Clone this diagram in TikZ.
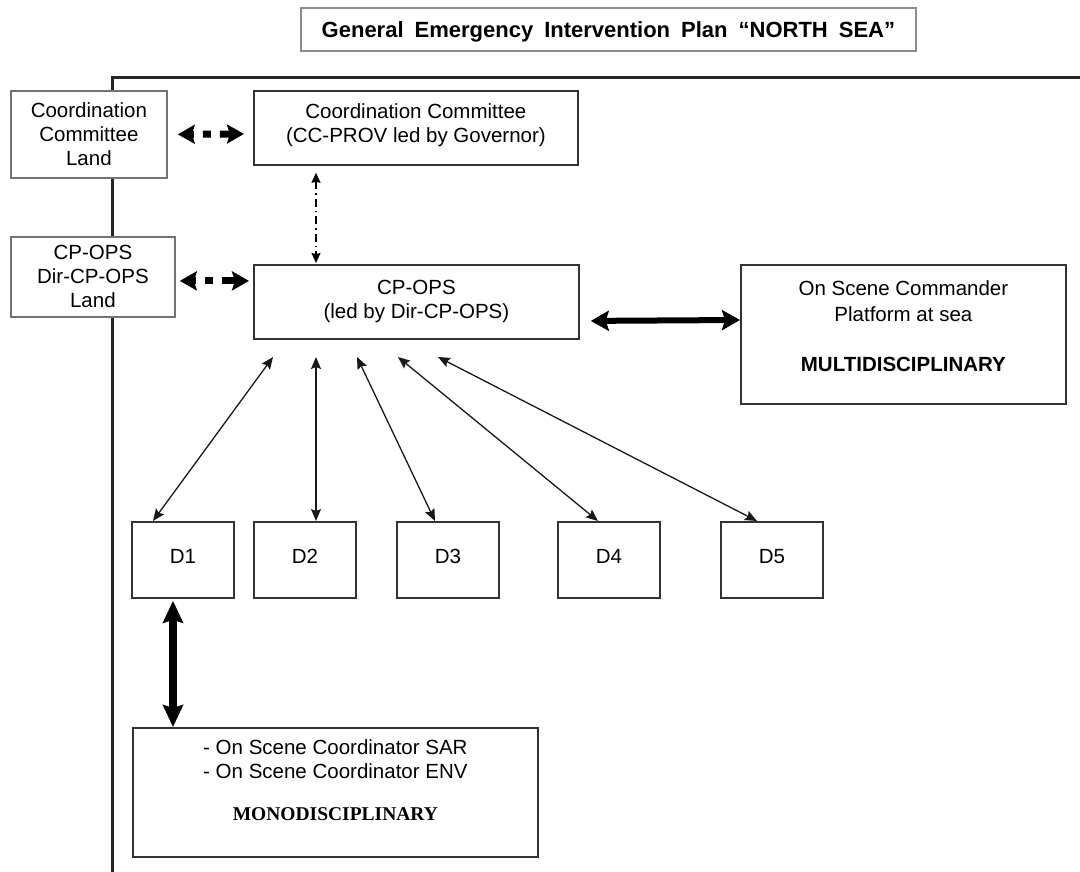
\documentclass[tikz,border=0pt]{standalone}
\usepackage{fontspec}
\setmainfont{Liberation Sans}
\newfontfamily\serifbold{Liberation Serif}
\usetikzlibrary{arrows.meta,calc}
\tikzset{
  box/.style={draw=black!80, line width=1.8pt, fill=white, anchor=north west, align=center,
    inner sep=0pt, font=\fontsize{20.5}{24}\selectfont},
  graybox/.style={box, draw=black!55},
  dbox/.style={box, minimum width=102, minimum height=76, text height=15pt, text depth=7pt},
  frame/.style={draw=black!85, line width=3pt},
  thickdash/.style={line width=7pt, dash pattern=on 3pt off 9pt on 8pt off 9pt on 30pt, black,
    {Stealth[length=17pt,width=19pt,inset=3pt]}-{Stealth[length=17pt,width=19pt,inset=3pt]}},
  dashdot/.style={line width=1.5pt, dash pattern=on 8pt off 4pt on 1.5pt off 4pt, black,
    {Stealth[length=10pt,width=9pt,inset=1pt]}-{Stealth[length=10pt,width=9pt,inset=1pt]}},
  boldarrow/.style={line width=6pt, black, {Stealth[length=18pt,width=20pt,inset=3pt]}-{Stealth[length=18pt,width=20pt,inset=3pt]}},
  hugearrow/.style={line width=7.5pt, black, {Stealth[length=22pt,width=20pt,inset=3pt]}-{Stealth[length=22pt,width=20pt,inset=3pt]}},
  thinarrow/.style={line width=1.3pt, black!90, {Stealth[length=12pt,width=10pt,inset=2pt]}-{Stealth[length=12pt,width=10pt,inset=2pt]}}
}
\begin{document}
\begin{tikzpicture}[x=1pt,y=-1pt]
\useasboundingbox (0,0) rectangle (1080,872);

% frame lines
\draw[frame] (112,872) -- (112,78) -- (1080,78);

% title
\node[box, draw=black!45, minimum width=615, minimum height=43, text height=16pt, text depth=0pt,
  font=\fontsize{22}{24}\selectfont\bfseries] (title) at (300,7)
  {\spaceskip=0.5em plus 0.1em\relax General Emergency Intervention Plan “NORTH SEA”};

% upper boxes
\node[graybox, minimum width=156, minimum height=87] (ccl) at (10,90) {Coordination\\Committee\\Land};
\node[box, minimum width=324, minimum height=74, text height=39pt, text depth=9pt] (cc) at (253,90)
  {Coordination Committee\\(CC-PROV led by Governor)};
\node[graybox, minimum width=164, minimum height=80] (cpl) at (10,236) {CP-OPS\\Dir-CP-OPS\\Land};
\node[box, minimum width=325, minimum height=74] (cp) at (253,264) {CP-OPS\\(led by Dir-CP-OPS)};
\node[box, minimum width=325, minimum height=139, text height=93pt, text depth=18pt] (osc) at (740,264)
  {On Scene Commander\\[2pt]Platform at sea\\[26pt]\textbf{MULTIDISCIPLINARY}};

% D boxes
\node[dbox] (d1) at (131,521) {D1};
\node[dbox] (d2) at (253,521) {D2};
\node[dbox] (d3) at (396,521) {D3};
\node[dbox] (d4) at (557,521) {D4};
\node[dbox] (d5) at (720,521) {D5};

% mono box
\node[box, minimum width=405, minimum height=129, text height=82pt, text depth=26pt] (mono) at (132,727)
  {- On Scene Coordinator SAR\\- On Scene Coordinator ENV\\[18pt]{\serifbold\bfseries\fontsize{19.5}{22}\selectfont MONODISCIPLINARY}};

% connectors
\draw[thickdash] ($(ccl.east)+(10,0)$) -- ($(cc.west)+(-9,6)$);
\draw[thickdash] ($(cpl.east)+(4,4)$) -- ($(cp.west)+(-4,-21)$);
\draw[dashdot] ($(cc.south west)+(63,7)$) -- ($(cp.north west)+(63,-1)$);
\draw[boldarrow] ($(cp.east)+(11,19)$) -- ($(osc.north west)+(0,56)$);

% CP -> D arrows
\coordinate (s1) at (273,357);
\coordinate (s2) at (316,357);
\coordinate (s3) at (357,357);
\coordinate (s4) at (398,357);
\coordinate (s5) at (438,357);
\draw[thinarrow] (s1) -- ($(d1.north west)+(22,0)$);
\draw[thinarrow] (s2) -- ($(d2.north west)+(63,0)$);
\draw[thinarrow] (s3) -- ($(d3.north west)+(39,0)$);
\draw[thinarrow] (s4) -- ($(d4.north west)+(41,0)$);
\draw[thinarrow] (s5) -- ($(d5.north west)+(37,0)$);

% D1 <-> mono
\draw[hugearrow] ($(d1.south west)+(42,2)$) -- ($(mono.north west)+(41,0)$);
\end{tikzpicture}
\end{document}
